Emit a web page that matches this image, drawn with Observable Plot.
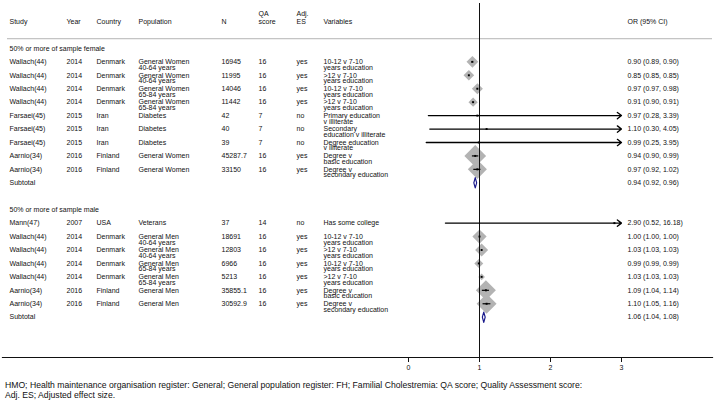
<!DOCTYPE html>
<html>
<head>
<meta charset="utf-8">
<script src="https://cdn.jsdelivr.net/npm/d3@7"></script>
<script src="https://cdn.jsdelivr.net/npm/@observablehq/plot@0.6"></script>
<style>
  body { margin: 0; background: #fff; font-family: "Liberation Sans", Arial, sans-serif; }
  #chart svg { display: block; }
  #foot { font-size: 8.65px; line-height: 10.7px; padding: 3.5px 0 0 5px; color: #111; white-space: nowrap; }
</style>
</head>
<body>
<div id="chart"></div>
<div id="foot"></div>
<script>
// ---------------- data ----------------
const groupLabels = ["50% or more of sample female", "50% or more of sample male"];
const studyGroup = [0,0,0,0,0,0,0,0,0, 1,1,1,1,1,1,1];
const study = ["Wallach(44)","Wallach(44)","Wallach(44)","Wallach(44)","Farsaei(45)","Farsaei(45)","Farsaei(45)","Aarnio(34)","Aarnio(34)",
               "Mann(47)","Wallach(44)","Wallach(44)","Wallach(44)","Wallach(44)","Aarnio(34)","Aarnio(34)"];
const year = ["2014","2014","2014","2014","2015","2015","2015","2016","2016",
              "2007","2014","2014","2014","2014","2016","2016"];
const country = ["Denmark","Denmark","Denmark","Denmark","Iran","Iran","Iran","Finland","Finland",
                 "USA","Denmark","Denmark","Denmark","Denmark","Finland","Finland"];
const population = ["General Women\n40-64 years","General Women\n40-64 years","General Women\n65-84 years","General Women\n65-84 years",
                    "Diabetes","Diabetes","Diabetes","General Women","General Women",
                    "Veterans","General Men\n40-64 years","General Men\n40-64 years","General Men\n65-84 years","General Men\n65-84 years",
                    "General Men","General Men"];
const sampleN = ["16945","11995","14046","11442","42","40","39","45287.7","33150",
                 "37","18691","12803","6966","5213","35855.1","30592.9"];
const qaScore = ["16","16","16","16","7","7","7","16","16",
                 "14","16","16","16","16","16","16"];
const adjES = ["yes","yes","yes","yes","no","no","no","yes","yes",
               "no","yes","yes","yes","yes","yes","yes"];
const variables = ["10-12 v 7-10\nyears education",">12 v 7-10\nyears education","10-12 v 7-10\nyears education",">12 v 7-10\nyears education",
                   "Primary education\nv illiterate","Secondary\neducation v illiterate","Degree education\nv illiterate",
                   "Degree v\nbasic education","Degree v\nsecondary education",
                   "Has some college","10-12 v 7-10\nyears education",">12 v 7-10\nyears education","10-12 v 7-10\nyears education",">12 v 7-10\nyears education",
                   "Degree v\nbasic education","Degree v\nsecondary education"];
const orEst  = [0.90,0.85,0.97,0.91,0.97,1.10,0.99,0.94,0.97, 2.90,1.00,1.03,0.99,1.03,1.09,1.10];
const ciLow  = [0.89,0.85,0.97,0.90,0.28,0.30,0.25,0.90,0.92, 0.52,1.00,1.03,0.99,1.03,1.04,1.05];
const ciHigh = [0.90,0.85,0.98,0.91,3.39,4.05,3.95,0.99,1.02, 16.18,1.00,1.03,0.99,1.03,1.14,1.16];
const weight = [10.6,8.8,9.4,6.7,0.01,0.01,0.01,36.5,28.0, 0.01,15.7,13.0,6.2,3.4,30.8,30.8];
const subtotalOR   = [0.94, 1.06];
const subtotalLow  = [0.92, 1.04];
const subtotalHigh = [0.96, 1.08];
const xTicks = [0, 1, 2, 3];
const nullEffect = 1;
const headers = ["Study","Year","Country","Population","N","QA\nscore","Adj.\nES","Variables","OR (95% CI)"];
const footnote = [
  "HMO; Health maintenance organisation register: General; General population register: FH; Familial Cholestremia: QA score; Quality Assessment score:",
  "Adj. ES; Adjusted effect size."
];

// ---------------- layout ----------------
const W = 714, H = 376;
const FS = 7.0;
const colX = [9, 66, 96, 138, 221, 258, 296, 323, 627];
const lineGap = [5.7, 5.7, 5.7, 5.7, 5.7, 5.7, 5.7, 5.7, 5.7];
const f2 = d3.format(".2f");
const ciText = (o, l, h) => `${f2(o)} (${f2(l)}, ${f2(h)})`;

const studies = study.map((s, i) => ({
  group: studyGroup[i],
  cols: [s, year[i], country[i], population[i], sampleN[i], qaScore[i], adjES[i], variables[i], ciText(orEst[i], ciLow[i], ciHigh[i])],
  or: orEst[i], lo: ciLow[i], hi: ciHigh[i], w: weight[i]
}));

// assign row indices
let k = 0;
const groupRows = [], subRows = [];
groupLabels.forEach((g, gi) => {
  groupRows.push({k: k++, label: g});
  studies.filter(d => d.group === gi).forEach(d => { d.k = k++; });
  subRows.push({k: k++, or: subtotalOR[gi], lo: subtotalLow[gi], hi: subtotalHigh[gi],
                cols: ["Subtotal", "", "", "", "", "", "", "", ciText(subtotalOR[gi], subtotalLow[gi], subtotalHigh[gi])]});
  k++;
});

const headerRow = -2;
const headerLineRow = -0.72;
const rowPx0 = 47.9, rowStep = 13.44;
const yDomain = [-rowPx0 / rowStep, (H - rowPx0) / rowStep];
const xMax = d3.max(xTicks);

// text cells
const cells = [];
[...studies, ...subRows].forEach(d => {
  d.cols.forEach((t, c) => {
    if (!t) return;
    t.split("\n").forEach((line, li) => cells.push({k: d.k, col: c, line: li, text: line}));
  });
});
groupRows.forEach(d => cells.push({k: d.k, col: 0, line: 0, text: d.label}));

const headerCells = [];
headers.forEach((h, c) => {
  const parts = h.split("\n");
  parts.forEach((p, li) => headerCells.push({k: headerRow, col: c, up: parts.length - 1 - li, text: p}));
});

const textMarks = [];
colX.forEach((px, c) => {
  [0, 1].forEach(li => {
    textMarks.push(Plot.text(cells.filter(d => d.col === c && d.line === li), {
      frameAnchor: "left", dx: px - 2, y: "k", text: "text", textAnchor: "start",
      fontSize: FS, fill: "#111", dy: li * lineGap[c]
    }));
    textMarks.push(Plot.text(headerCells.filter(d => d.col === c && d.up === li), {
      frameAnchor: "left", dx: px - 2, y: "k", text: "text", textAnchor: "start",
      fontSize: FS, fill: "#111", dy: -li * 8
    }));
  });
});

// subtotal diamonds as closed polygons
const subPoly = subRows.flatMap((d, i) => [
  {z: i, x: d.lo, y: d.k}, {z: i, x: d.or, y: d.k - 0.38},
  {z: i, x: d.hi, y: d.k}, {z: i, x: d.or, y: d.k + 0.38}, {z: i, x: d.lo, y: d.k}
]);

const chart = Plot.plot({
  width: W, height: H,
  marginTop: 3, marginBottom: 19, marginLeft: 2, marginRight: 2,
  style: {fontFamily: "'Liberation Sans', Arial, sans-serif", background: "#fff", color: "#111"},
  x: {domain: [-408 / 71, (W - 408) / 71], range: [0, W], axis: null},
  y: {domain: yDomain, range: [0, H], axis: null},
  r: {type: "sqrt", domain: [0, d3.max(weight)], range: [0, 9.8]},
  marks: [
    Plot.ruleY([headerLineRow], {stroke: "#b4b4b4", strokeWidth: 1, insetLeft: 5}),
    Plot.dot(studies, {x: "or", y: "k", r: "w", symbol: "diamond2", fill: "#b3b3b3", stroke: "none"}),
    Plot.ruleX([nullEffect], {stroke: "#111", strokeWidth: 1}),
    Plot.frame({anchor: "bottom", stroke: "#111", strokeWidth: 1.2}),
    Plot.axisX({ticks: xTicks, tickSize: 5, tickPadding: 3, fontSize: FS, tickFormat: d3.format("d"), label: null, stroke: "#111"}),
    Plot.ruleY(studies.filter(d => d.hi <= xMax), {y: "k", x1: "lo", x2: "hi", stroke: "#000", strokeWidth: 1.2}),
    Plot.arrow(studies.filter(d => d.hi > xMax), {x1: "lo", x2: d => xMax, y1: "k", y2: "k",
      stroke: "#000", strokeWidth: 1.3, headLength: 6, headAngle: 75}),
    Plot.dot(studies, {x: "or", y: "k", symbol: "square", r: 1.1, fill: "#000"}),
    Plot.line(subPoly, {x: "x", y: "y", z: "z", fill: "#fff", stroke: "#1a1a8c", strokeWidth: 1.2}),
    ...textMarks
  ]
});
document.getElementById("chart").appendChild(chart);
document.getElementById("foot").innerHTML = footnote.map(s => s.replace(/&/g, "&amp;")).join("<br>");
</script>
</body>
</html>
